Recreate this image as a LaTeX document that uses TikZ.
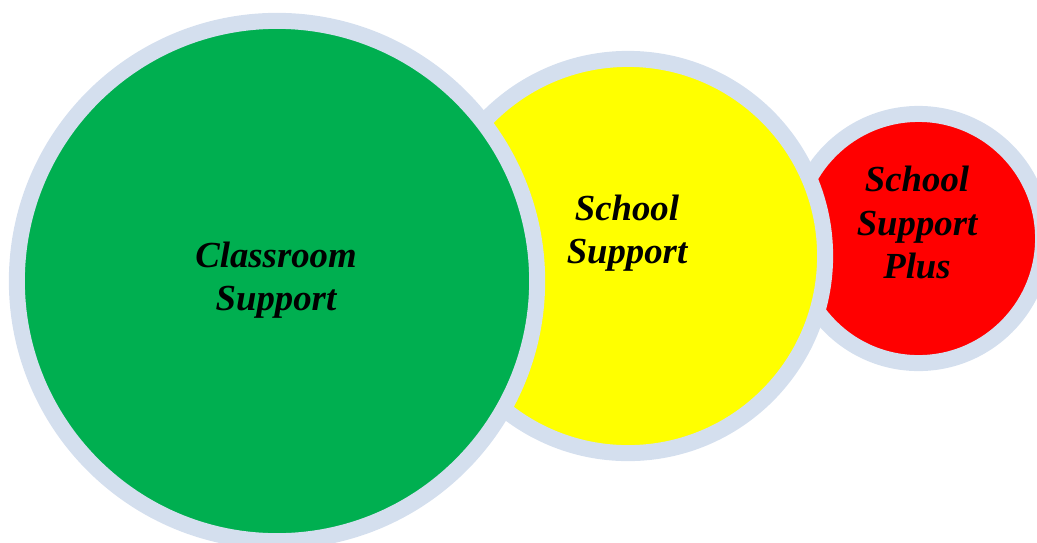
\documentclass[tikz,border=0pt]{standalone}
\usepackage{fontspec}
\setmainfont{Liberation Serif}
\definecolor{ringblue}{HTML}{D4DFEE}
\definecolor{supgreen}{HTML}{00AF50}
\definecolor{supyellow}{HTML}{FFFF00}
\definecolor{supred}{HTML}{FF0000}
\begin{document}
\begin{tikzpicture}[x=0.01cm,y=-0.01cm,
        ring/.style={circle,draw=ringblue,line width=4.55pt,inner sep=0pt},
        lbl/.style={align=center,inner sep=0pt,font=\fontsize{10.45}{12.3}\selectfont\bfseries\itshape}]
            \useasboundingbox (0,0) rectangle (1037,542);

            \node[ring,fill=supred,minimum size=2.49cm] (PLUS) at (918.5,238.5) {};
            \node[ring,fill=supyellow,minimum size=3.94cm] (SCHOOL) at (628,256) {};
            \node[ring,fill=supgreen,minimum size=5.2cm] (CLASS) at (277,281) {};

            \node[lbl] (CLASSTXT) at (276,280) {Classroom\\Support};
            \node[lbl] (SCHOOLTXT) at (627,233) {School\\Support};
            \node[lbl] (PLUSTXT) at (917,222.5) {School\\Support\\Plus};

        \end{tikzpicture}
\end{document}
